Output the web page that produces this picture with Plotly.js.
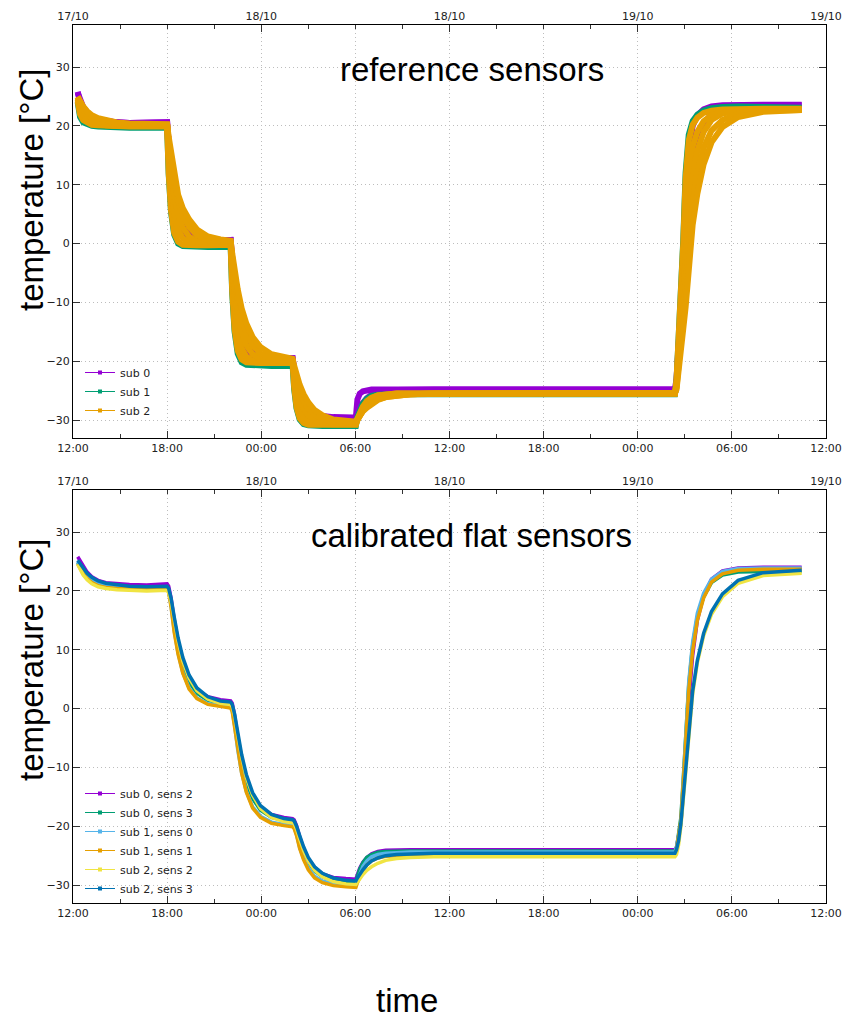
<!DOCTYPE html>
<html>
<head>
<meta charset="utf-8">
<script src="https://cdn.plot.ly/plotly-3.0.1.min.js"></script>
<style>
html,body{margin:0;padding:0;background:#fff;}
#chart{width:854px;height:1019px;}
</style>
</head>
<body>
<div id="chart"></div>
<script>
// time in hours since 17/10 12:00
const hours = [
  0.3, 0.45, 0.65, 0.9, 1.2, 1.6, 2.1, 2.8, 3.6, 4.7, 6.0,
  6.1, 6.25, 6.45, 6.7, 7.0, 7.4, 7.9, 8.6, 9.4, 10.05,
  10.15, 10.3, 10.5, 10.75, 11.05, 11.45, 11.95, 12.65, 13.45, 14.0,
  14.1, 14.25, 14.45, 14.7, 15.0, 15.4, 15.9, 16.6, 17.4, 18.03,
  18.13, 18.28, 18.48, 18.73, 19.03, 19.43, 19.93, 20.63, 21.5, 23.0, 25.0, 30.0, 34.0, 38.37,
  38.47, 38.6, 38.75, 38.9, 39.05, 39.25, 39.5, 39.8, 40.2, 40.7, 41.4, 42.4, 44.0, 46.45
];

// ---- reference sensors ----
const refSub0Fast = [
  25.8, 24.0, 22.8, 22.0, 21.4, 21.0, 20.8, 20.6, 20.5, 20.5, 20.6,
  15.0, 9.1, 4.9, 2.5, 1.2, 0.7, 0.5, 0.5, 0.5, 0.6,
  -5.0, -10.9, -15.2, -17.6, -18.9, -19.4, -19.6, -19.6, -19.6, -19.5,
  -22.3, -25.2, -27.4, -28.6, -29.2, -29.5, -29.6, -29.6, -29.6, -29.6,
  -26.5, -25.5, -25.1, -24.9, -24.8, -24.8, -24.8, -24.8, -24.8, -24.8, -24.8, -24.8, -24.8, -24.8,
  -23.0, -18.0, -11.0, -2.0, 8.0, 16.0, 20.0, 21.8, 22.8, 23.3, 23.5, 23.6, 23.6, 23.6
];
const refSub0Mid = [
  25.6, 24.3, 23.2, 22.3, 21.6, 21.1, 20.8, 20.6, 20.5, 20.5, 20.6,
  17.2, 13.2, 9.3, 6.1, 3.7, 2.1, 1.1, 0.7, 0.5, 0.6,
  -2.8, -6.9, -10.7, -13.9, -16.4, -18.0, -18.9, -19.4, -19.5, -19.5,
  -21.2, -23.2, -25.1, -26.8, -28.0, -28.8, -29.3, -29.5, -29.6, -29.6,
  -28.9, -28.0, -27.1, -26.3, -25.7, -25.3, -25.0, -24.9, -24.8, -24.8, -24.8, -24.8, -24.8, -24.8,
  -24.0, -20.0, -14.5, -7.5, 0.0, 7.5, 13.5, 17.5, 20.3, 22.0, 23.0, 23.4, 23.5, 23.5
];
const refSub1 = [
  24.0, 21.5, 20.6, 20.2, 20.0, 19.9, 19.8, 19.8, 19.7, 19.7, 19.7,
  11.8, 5.3, 1.5, 0.0, -0.4, -0.5, -0.6, -0.6, -0.6, -0.6,
  -8.5, -15.0, -18.7, -20.2, -20.6, -20.7, -20.8, -20.8, -20.8, -20.8,
  -24.8, -28.0, -29.9, -30.7, -30.9, -31.0, -31.0, -31.0, -31.0, -31.0,
  -29.5, -28.3, -27.2, -26.4, -25.9, -25.7, -25.6, -25.6, -25.6, -25.6, -25.6, -25.6, -25.6, -25.6,
  -23.5, -17.0, -9.5, 0.5, 12.0, 18.5, 20.8, 21.9, 22.6, 23.0, 23.2, 23.3, 23.2, 23.1
];
const refSub2Fast = [
  24.2, 22.0, 21.0, 20.5, 20.2, 20.1, 20.0, 19.9, 19.9, 19.9, 19.9,
  12.0, 5.6, 1.8, 0.3, -0.2, -0.3, -0.3, -0.3, -0.3, -0.2,
  -8.1, -14.5, -18.2, -19.7, -20.2, -20.3, -20.3, -20.3, -20.3, -20.3,
  -24.4, -27.8, -29.7, -30.5, -30.8, -30.8, -30.8, -30.8, -30.8, -30.8,
  -29.8, -28.7, -27.7, -26.8, -26.2, -25.8, -25.6, -25.5, -25.5, -25.5, -25.5, -25.5, -25.5, -25.5,
  -23.3, -17.5, -10.0, 0.0, 11.0, 17.5, 20.2, 21.4, 22.2, 22.6, 22.8, 22.9, 22.9, 22.9
];
const refSub2MidFast = [
  24.5, 22.5, 21.4, 20.8, 20.5, 20.3, 20.1, 20.0, 20.0, 20.0, 20.0,
  14.8, 9.4, 5.1, 2.3, 0.9, 0.2, 0.0, -0.1, -0.1, -0.1,
  -5.3, -10.8, -15.0, -17.8, -19.2, -19.9, -20.1, -20.2, -20.2, -20.2,
  -22.9, -25.8, -27.9, -29.4, -30.2, -30.6, -30.7, -30.7, -30.7, -30.7,
  -29.9, -28.9, -27.9, -27.0, -26.3, -25.8, -25.6, -25.5, -25.5, -25.5, -25.5, -25.5, -25.5, -25.5,
  -23.8, -19.0, -12.5, -4.5, 4.5, 12.0, 16.5, 19.0, 20.8, 21.8, 22.4, 22.7, 22.8, 22.8
];
const refSub2Mid = [
  24.8, 23.0, 21.9, 21.2, 20.8, 20.5, 20.3, 20.2, 20.1, 20.1, 20.1,
  16.5, 12.3, 8.2, 5.0, 2.7, 1.2, 0.4, 0.1, 0.0, 0.0,
  -3.6, -7.8, -11.8, -15.0, -17.3, -18.8, -19.6, -19.9, -20.0, -20.0,
  -21.9, -24.1, -26.3, -28.0, -29.2, -30.0, -30.4, -30.5, -30.6, -30.6,
  -30.0, -29.2, -28.4, -27.6, -27.0, -26.4, -26.0, -25.7, -25.6, -25.5, -25.5, -25.5, -25.5, -25.5,
  -24.3, -20.5, -15.0, -9.0, -2.5, 5.0, 11.5, 15.8, 19.0, 21.0, 22.1, 22.6, 22.8, 22.8
];
const refSub2MidSlow = [
  24.9, 23.6, 22.6, 21.9, 21.3, 20.9, 20.6, 20.4, 20.2, 20.2, 20.2,
  17.4, 14.0, 10.6, 7.4, 4.8, 2.8, 1.4, 0.6, 0.3, 0.3,
  -2.5, -6.0, -9.4, -12.6, -15.2, -17.3, -18.7, -19.5, -19.8, -19.9,
  -21.4, -23.2, -25.0, -26.7, -28.1, -29.1, -29.8, -30.3, -30.4, -30.5,
  -30.0, -29.2, -28.4, -27.7, -27.1, -26.5, -26.1, -25.8, -25.6, -25.5, -25.5, -25.5, -25.5, -25.5,
  -24.5, -21.5, -16.5, -12.0, -6.5, 0.0, 7.0, 12.0, 16.3, 19.2, 21.0, 22.1, 22.6, 22.7
];
const refSub2Slow = [
  25.0, 24.2, 23.3, 22.5, 21.8, 21.3, 20.9, 20.6, 20.4, 20.3, 20.3,
  18.1, 15.2, 12.1, 8.3, 6.0, 4.1, 2.4, 1.2, 0.7, 0.5,
  -1.7, -4.6, -7.8, -11.0, -13.6, -15.9, -17.6, -18.8, -19.4, -19.6,
  -20.8, -22.4, -24.0, -25.6, -27.0, -28.3, -29.2, -29.9, -30.2, -30.3,
  -29.8, -29.2, -28.5, -27.9, -27.2, -26.6, -26.1, -25.8, -25.6, -25.5, -25.4, -25.4, -25.4, -25.4,
  -24.8, -22.2, -18.0, -14.5, -10.8, -4.5, 3.2, 8.5, 13.5, 17.2, 19.8, 21.5, 22.4, 22.7
];

// ---- calibrated flat sensors ----
const calSub0Sens2 = [
  25.8, 25.2, 24.2, 23.2, 22.4, 21.8, 21.4, 21.2, 21.1, 21.0, 21.2,
  20.8, 18.8, 15.2, 11.4, 8.0, 5.2, 3.2, 2.0, 1.5, 1.3,
  0.9, -1.1, -4.7, -8.5, -12.0, -14.8, -16.8, -18.0, -18.5, -18.7,
  -18.9, -19.9, -21.8, -23.8, -25.6, -27.0, -28.1, -28.7, -28.9, -29.0,
  -28.2, -27.1, -26.1, -25.3, -24.7, -24.3, -24.1, -24.0, -24.0, -24.0, -24.0, -24.0, -24.0, -24.0,
  -23.6, -22.0, -19.5, -14.5, -7.5, 1.0, 9.0, 15.0, 19.2, 22.0, 23.4, 23.9, 24.0, 24.0
];
const calSub0Sens3 = [
  24.8, 24.0, 23.0, 22.2, 21.5, 20.9, 20.6, 20.4, 20.3, 20.2, 20.3,
  19.9, 17.9, 14.4, 10.6, 7.3, 4.5, 2.6, 1.4, 0.9, 0.7,
  0.3, -1.7, -5.3, -9.1, -12.5, -15.3, -17.3, -18.5, -19.0, -19.2,
  -19.4, -20.5, -22.3, -24.3, -26.1, -27.6, -28.6, -29.3, -29.5, -29.6,
  -28.5, -27.3, -26.2, -25.3, -24.8, -24.4, -24.3, -24.2, -24.2, -24.2, -24.2, -24.2, -24.2, -24.2,
  -23.7, -21.5, -18.5, -12.0, -4.0, 4.0, 10.8, 15.6, 19.0, 21.4, 22.7, 23.2, 23.3, 23.3
];
const calSub1Sens0 = [
  25.0, 24.3, 23.4, 22.6, 21.9, 21.3, 20.9, 20.7, 20.6, 20.5, 20.6,
  20.0, 17.5, 13.3, 9.4, 6.1, 3.5, 1.8, 0.8, 0.4, 0.2,
  -0.4, -2.8, -7.0, -10.9, -14.1, -16.7, -18.3, -19.3, -19.7, -19.9,
  -20.2, -21.4, -23.6, -25.5, -27.1, -28.5, -29.3, -29.8, -30.0, -30.1,
  -29.2, -28.0, -26.8, -25.9, -25.2, -24.8, -24.6, -24.5, -24.4, -24.4, -24.4, -24.4, -24.4, -24.4,
  -23.5, -21.5, -19.5, -12.5, -4.0, 4.5, 11.3, 16.2, 19.6, 22.0, 23.3, 23.8, 23.9, 23.9
];
const calSub1Sens1 = [
  24.6, 23.8, 22.9, 22.1, 21.4, 20.9, 20.6, 20.4, 20.3, 20.3, 20.3,
  19.7, 17.3, 13.0, 9.2, 6.0, 3.3, 1.7, 0.7, 0.3, 0.1,
  -0.5, -3.1, -7.2, -11.0, -14.2, -16.9, -18.5, -19.5, -19.9, -20.1,
  -20.4, -21.6, -23.8, -25.7, -27.4, -28.8, -29.6, -30.1, -30.3, -30.4,
  -29.6, -28.6, -27.5, -26.6, -25.9, -25.4, -25.1, -25.0, -24.9, -24.9, -24.9, -24.9, -24.9, -24.9,
  -24.0, -22.0, -19.0, -12.8, -5.0, 3.0, 9.8, 15.0, 18.8, 21.5, 22.9, 23.5, 23.7, 23.7
];
const calSub2Sens2 = [
  24.5, 23.7, 22.7, 21.9, 21.2, 20.7, 20.4, 20.2, 20.1, 20.0, 20.1,
  19.7, 18.1, 15.0, 11.5, 8.1, 5.2, 3.0, 1.6, 0.9, 0.7,
  0.3, -1.3, -4.6, -8.2, -11.7, -14.7, -17.0, -18.5, -19.2, -19.4,
  -19.6, -20.5, -22.2, -24.1, -25.9, -27.5, -28.6, -29.4, -29.8, -29.9,
  -29.5, -28.9, -28.2, -27.5, -26.9, -26.3, -25.8, -25.5, -25.3, -25.2, -25.2, -25.2, -25.2, -25.2,
  -24.8, -23.2, -20.0, -15.5, -10.0, -3.5, 2.5, 7.8, 12.4, 16.0, 19.0, 21.3, 22.6, 23.0
];
const calSub2Sens3 = [
  25.2, 24.6, 23.8, 23.0, 22.3, 21.7, 21.3, 21.0, 20.8, 20.7, 20.8,
  20.4, 18.8, 15.6, 12.0, 8.7, 5.7, 3.5, 2.0, 1.3, 1.1,
  0.7, -0.9, -4.0, -7.8, -11.2, -14.3, -16.5, -18.0, -18.7, -18.9,
  -19.1, -20.0, -21.6, -23.5, -25.3, -26.9, -28.0, -28.8, -29.2, -29.3,
  -28.8, -28.1, -27.4, -26.6, -25.9, -25.4, -25.0, -24.8, -24.7, -24.6, -24.6, -24.6, -24.6, -24.6,
  -24.0, -22.5, -19.5, -15.0, -9.5, -3.0, 3.0, 8.2, 12.8, 16.5, 19.5, 21.8, 23.1, 23.5
];

const refNames = ['sub 0', 'sub 1', 'sub 2'];
const refColors = ['#9400d3', '#009e73', '#e69f00'];
const calNames = ['sub 0, sens 2', 'sub 0, sens 3', 'sub 1, sens 0', 'sub 1, sens 1', 'sub 2, sens 2', 'sub 2, sens 3'];
const calColors = ['#9400d3', '#009e73', '#56b4e9', '#e69f00', '#f0e442', '#0072b2'];

const START_MS = Date.UTC(2019, 9, 17, 12, 0, 0);
function toDate(h) {
  return new Date(START_MS + h * 3600000).toISOString().slice(0, 19).replace('T', ' ');
}
const X = hours.map(toDate);
const X0 = toDate(0), X1 = toDate(48);

const traces = [];
const refSeries = [
  [refSub0Fast, 0], [refSub0Mid, 0], [refSub1, 1],
  [refSub2Fast, 2], [refSub2MidFast, 2], [refSub2Mid, 2], [refSub2MidSlow, 2], [refSub2Slow, 2]
];
refSeries.forEach(([vals, k]) => {
  traces.push({x: X, y: vals, xaxis: 'x', yaxis: 'y', mode: 'lines', showlegend: false,
    line: {color: refColors[k], width: 6}, hoverinfo: 'skip'});
});
refNames.forEach((n, k) => {
  traces.push({x: [null], y: [null], xaxis: 'x', yaxis: 'y', name: n, mode: 'lines+markers', legend: 'legend',
    line: {color: refColors[k], width: 1}, marker: {color: refColors[k], size: 4, symbol: 'square'}});
});
const calSeries = [calSub0Sens2, calSub0Sens3, calSub1Sens0, calSub1Sens1, calSub2Sens2, calSub2Sens3];
calSeries.forEach((vals, k) => {
  traces.push({x: X, y: vals, xaxis: 'x3', yaxis: 'y2', mode: 'lines', showlegend: false,
    line: {color: calColors[k], width: 3.5}, hoverinfo: 'skip'});
});
calNames.forEach((n, k) => {
  traces.push({x: [null], y: [null], xaxis: 'x3', yaxis: 'y2', name: n, mode: 'lines+markers', legend: 'legend2',
    line: {color: calColors[k], width: 1}, marker: {color: calColors[k], size: 4, symbol: 'square'}});
});
// empty traces so that the top (date) axes are drawn
traces.push({x: [null], y: [null], xaxis: 'x2', yaxis: 'y', mode: 'lines', showlegend: false, hoverinfo: 'skip'});
traces.push({x: [null], y: [null], xaxis: 'x4', yaxis: 'y2', mode: 'lines', showlegend: false, hoverinfo: 'skip'});

const tickFont = {family: 'DejaVu Sans', size: 11, color: '#222'};
const gridCol = '#bdbdbd';
const gridDash = '1px,3px';
const dom = [73 / 854, 826 / 854];
const H = 1019;
function botX(anchor) {
  return {type: 'date', domain: dom, anchor: anchor, range: [X0, X1], tick0: X0, dtick: 6 * 3600000,
    tickformat: '%H:%M', ticks: 'inside', ticklen: 7, tickcolor: '#333', tickfont: tickFont,
    showline: true, linecolor: '#000', linewidth: 1, mirror: false,
    showgrid: true, gridcolor: gridCol, griddash: gridDash, gridwidth: 1, zeroline: false,
    minor: {dtick: 3 * 3600000, tick0: X0, ticks: 'inside', ticklen: 4, tickcolor: '#333', showgrid: false}};
}
function topX(over, anchor) {
  return {type: 'date', domain: dom, overlaying: over, anchor: anchor, side: 'top', range: [X0, X1], tick0: X0,
    dtick: 12 * 3600000, tickformat: '%d/%m', ticks: 'inside', ticklen: 7, tickcolor: '#333', tickfont: tickFont,
    showline: true, linecolor: '#000', linewidth: 1, showgrid: false, zeroline: false,
    minor: {dtick: 3 * 3600000, tick0: X0, ticks: 'inside', ticklen: 4, tickcolor: '#333', showgrid: false}};
}
function yAx(d0, d1, anchor) {
  return {domain: [1 - d1 / H, 1 - d0 / H], anchor: anchor, range: [-33.05, 37.15], tick0: 0, dtick: 10,
    ticks: 'inside', ticklen: 7, tickcolor: '#333', tickfont: tickFont, showline: true, linecolor: '#000',
    linewidth: 1, mirror: 'ticks', showgrid: true, gridcolor: gridCol, griddash: gridDash, zeroline: false};
}

const bigFont = {family: 'Liberation Sans, Arial, sans-serif', size: 33, color: '#000'};
const layout = {
  width: 854, height: 1019,
  margin: {l: 0, r: 0, t: 0, b: 0},
  paper_bgcolor: '#fff', plot_bgcolor: '#fff',
  xaxis: botX('y'),
  xaxis2: topX('x', 'y'),
  yaxis: yAx(25, 438, 'x'),
  xaxis3: botX('y2'),
  xaxis4: topX('x3', 'y2'),
  yaxis2: yAx(490, 903, 'x3'),
  legend: {x: 80 / 854, y: 1 - 425 / H, xanchor: 'left', yanchor: 'bottom', bgcolor: 'rgba(0,0,0,0)',
    font: {family: 'DejaVu Sans', size: 11, color: '#222'}, tracegroupgap: 0},
  legend2: {x: 80 / 854, y: 1 - 903 / H, xanchor: 'left', yanchor: 'bottom', bgcolor: 'rgba(0,0,0,0)',
    font: {family: 'DejaVu Sans', size: 11, color: '#222'}, tracegroupgap: 0},
  annotations: [
    {text: 'reference sensors', xref: 'paper', yref: 'paper', x: 472 / 854, y: 1 - 70 / H,
      xanchor: 'center', yanchor: 'middle', showarrow: false, font: bigFont},
    {text: 'calibrated flat sensors', xref: 'paper', yref: 'paper', x: 472 / 854, y: 1 - 535 / H,
      xanchor: 'center', yanchor: 'middle', showarrow: false, font: bigFont},
    {text: 'temperature [°C]', xref: 'paper', yref: 'paper', x: 31 / 854, y: 1 - 190 / H, textangle: -90,
      xanchor: 'center', yanchor: 'middle', showarrow: false, font: bigFont},
    {text: 'temperature [°C]', xref: 'paper', yref: 'paper', x: 31 / 854, y: 1 - 660 / H, textangle: -90,
      xanchor: 'center', yanchor: 'middle', showarrow: false, font: bigFont},
    {text: 'time', xref: 'paper', yref: 'paper', x: 407 / 854, y: 1 - 1000 / H,
      xanchor: 'center', yanchor: 'middle', showarrow: false, font: bigFont}
  ]
};

Plotly.newPlot('chart', traces, layout, {displayModeBar: false, staticPlot: true});
</script>
</body>
</html>
